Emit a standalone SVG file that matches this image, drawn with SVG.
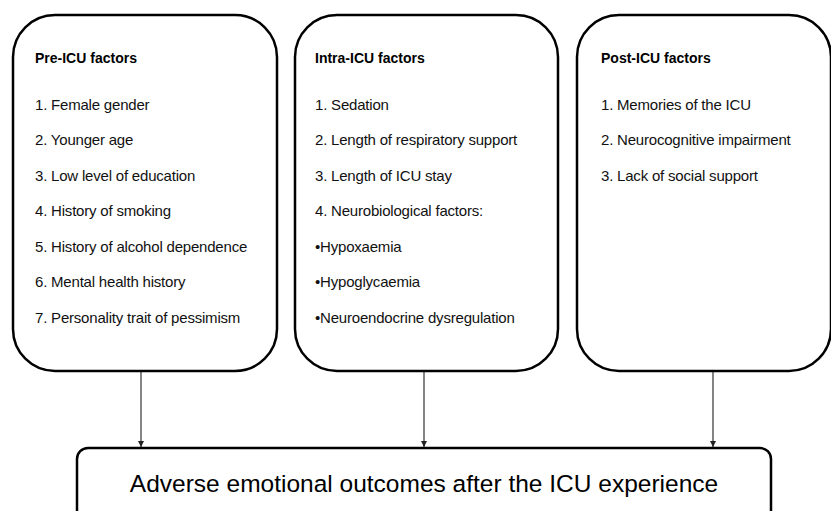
<svg xmlns="http://www.w3.org/2000/svg" width="831" height="511" viewBox="0 0 831 511">
<defs>
<style>
.box{fill:#fff;stroke:#000;stroke-width:2.5}
.title{font-family:"Liberation Sans",Arial,sans-serif;font-size:14px;font-weight:bold;fill:#000}
.item{font-family:"Liberation Sans",Arial,sans-serif;font-size:15px;letter-spacing:-0.2px;fill:#111}
.main{font-family:"Liberation Sans",Arial,sans-serif;font-size:24.5px;fill:#000}
.conn{stroke:#333;stroke-width:1.2;fill:none;marker-end:url(#arr)}
</style>
<marker id="arr" viewBox="0 0 8 8" refX="8" refY="4" markerWidth="6" markerHeight="6" markerUnits="userSpaceOnUse" orient="auto">
<path d="M0,0 L8,4 L0,8 z" fill="#222"/>
</marker>
</defs>
<rect width="831" height="511" fill="#fff"/>
<g id="connectors">
<line class="conn" x1="141" y1="371" x2="141" y2="447"/>
<line class="conn" x1="424" y1="371" x2="424" y2="447"/>
<line class="conn" x1="713" y1="371" x2="713" y2="447"/>
</g>
<g id="pre-icu">
<rect class="box" x="13" y="15" width="264" height="356" rx="42" ry="42"/>
<text class="title" x="35" y="63">Pre-ICU factors</text>
<text class="item" x="35" y="109.5">1. Female gender</text>
<text class="item" x="35" y="145">2. Younger age</text>
<text class="item" x="35" y="180.5">3. Low level of education</text>
<text class="item" x="35" y="216">4. History of smoking</text>
<text class="item" x="35" y="251.5">5. History of alcohol dependence</text>
<text class="item" x="35" y="287">6. Mental health history</text>
<text class="item" x="35" y="322.5">7. Personality trait of pessimism</text>
</g>
<g id="intra-icu">
<rect class="box" x="295" y="15" width="263" height="356" rx="42" ry="42"/>
<text class="title" x="315" y="63">Intra-ICU factors</text>
<text class="item" x="315" y="109.5">1. Sedation</text>
<text class="item" x="315" y="145">2. Length of respiratory support</text>
<text class="item" x="315" y="180.5">3. Length of ICU stay</text>
<text class="item" x="315" y="216">4. Neurobiological factors:</text>
<text class="item" x="315" y="251.5">•Hypoxaemia</text>
<text class="item" x="315" y="287">•Hypoglycaemia</text>
<text class="item" x="315" y="322.5">•Neuroendocrine dysregulation</text>
</g>
<g id="post-icu">
<rect class="box" x="577" y="15" width="254" height="356" rx="42" ry="42"/>
<text class="title" x="601" y="63">Post-ICU factors</text>
<text class="item" x="601" y="109.5">1. Memories of the ICU</text>
<text class="item" x="601" y="145">2. Neurocognitive impairment</text>
<text class="item" x="601" y="180.5">3. Lack of social support</text>
</g>
<g id="outcome">
<rect class="box" x="77" y="448" width="694" height="90" rx="11" ry="11"/>
<text class="main" x="424" y="492" text-anchor="middle">Adverse emotional outcomes after the ICU experience</text>
</g>
</svg>
